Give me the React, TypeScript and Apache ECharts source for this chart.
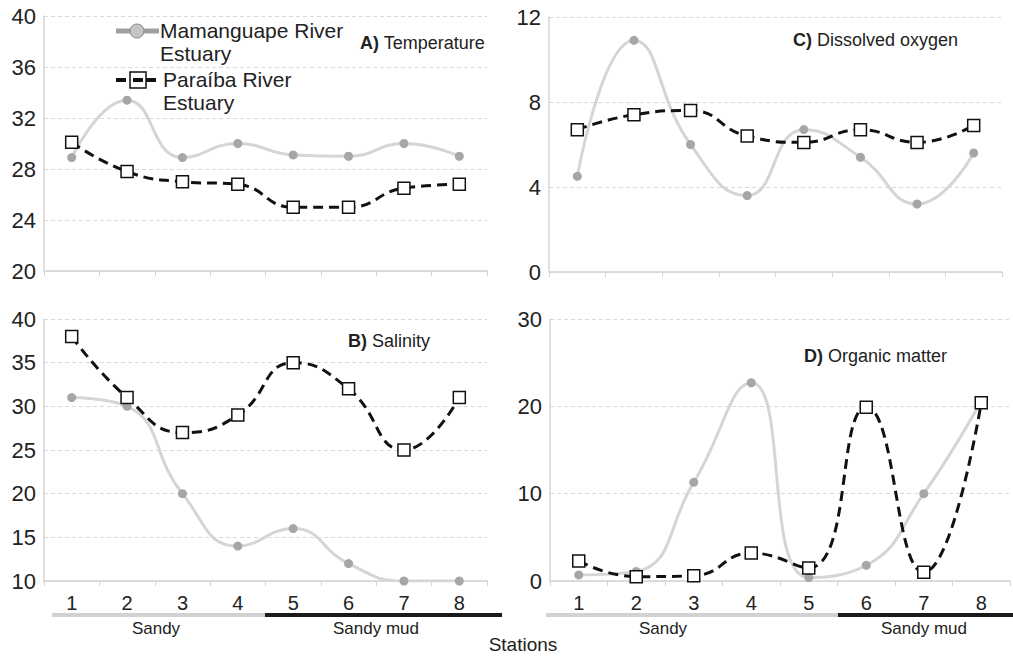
import React, { useEffect, useRef } from "react";
import * as echarts from "echarts";

const stations = ["1", "2", "3", "4", "5", "6", "7", "8"];

const tempMamanguape = [28.9, 33.4, 28.9, 30.0, 29.1, 29.0, 30.0, 29.0];
const tempParaiba = [30.1, 27.8, 27.0, 26.8, 25.0, 25.0, 26.5, 26.8];

const oxyMamanguape = [4.5, 10.9, 6.0, 3.6, 6.7, 5.4, 3.2, 5.6];
const oxyParaiba = [6.7, 7.4, 7.6, 6.4, 6.1, 6.7, 6.1, 6.9];

const salMamanguape = [31, 30, 20, 14, 16, 12, 10, 10];
const salParaiba = [38, 31, 27, 29, 35, 32, 25, 31];

const omMamanguape = [0.7, 1.1, 11.3, 22.7, 0.4, 1.8, 10.0, 20.6];
const omParaiba = [2.3, 0.5, 0.6, 3.2, 1.5, 19.9, 1.0, 20.4];

const seriesNames = ["Mamanguape River\nEstuary", "Paraíba River\nEstuary"];

const FONT = "'Liberation Sans', Arial, Helvetica, sans-serif";

export default function App() {
  const ref = useRef<HTMLDivElement>(null);

  useEffect(() => {
    if (!ref.current) return;
    const chart = echarts.init(ref.current, null, { renderer: "svg" });

    const panels = [
      { grid: { left: 44, top: 16, width: 443, height: 255 }, min: 20, max: 40, interval: 4, labels: false, m: tempMamanguape, p: tempParaiba },
      { grid: { left: 549, top: 17, width: 453, height: 255 }, min: 0, max: 12, interval: 4, labels: false, m: oxyMamanguape, p: oxyParaiba },
      { grid: { left: 44, top: 319, width: 443, height: 262 }, min: 10, max: 40, interval: 5, labels: true, m: salMamanguape, p: salParaiba },
      { grid: { left: 550, top: 319, width: 460, height: 262 }, min: 0, max: 30, interval: 10, labels: true, m: omMamanguape, p: omParaiba },
    ];

    const grids = panels.map((p) => ({ ...p.grid, containLabel: false }));
    const xAxes = panels.map((p, i) => ({
      type: "category",
      gridIndex: i,
      data: stations,
      boundaryGap: true,
      axisLine: { show: true, lineStyle: { color: "#d4d4d4", width: 1.5 } },
      axisTick: { show: true, length: 5, inside: false, lineStyle: { color: "#d4d4d4", width: 1 } },
      axisLabel: {
        show: p.labels,
        margin: 12,
        fontSize: 20,
        color: "#222",
        fontFamily: FONT,
      },
      splitLine: { show: false },
    }));
    const yAxes = panels.map((p, i) => ({
      type: "value",
      gridIndex: i,
      min: p.min,
      max: p.max,
      interval: p.interval,
      axisLine: { show: true, lineStyle: { color: "#d4d4d4", width: 1.5 } },
      axisTick: { show: false },
      axisLabel: { margin: 8, fontSize: 22, color: "#222", fontFamily: FONT },
      splitLine: { show: true, lineStyle: { color: "#d9d9d9", type: [4, 3], width: 1 } },
    }));

    const series: any[] = [];
    panels.forEach((p, i) => {
      series.push({
        name: seriesNames[0],
        type: "line",
        xAxisIndex: i,
        yAxisIndex: i,
        data: p.m,
        smooth: 0.5,
        symbol: "circle",
        symbolSize: 9,
        lineStyle: { color: "#d5d5d5", width: 3 },
        itemStyle: { color: "#a6a6a6", borderWidth: 0 },
        z: 2,
      });
      series.push({
        name: seriesNames[1],
        type: "line",
        xAxisIndex: i,
        yAxisIndex: i,
        data: p.p,
        smooth: 0.5,
        symbol: "rect",
        symbolSize: 12,
        lineStyle: { color: "#111", width: 3, type: [10, 6] },
        itemStyle: { color: "#fff", borderColor: "#111", borderWidth: 1.5 },
        z: 3,
      });
    });

    const titleText = (x: number, y: number, letter: string, name: string) => ({
      type: "text",
      left: x,
      top: y,
      style: {
        text: `{b|${letter}} ${name}`,
        rich: {
          b: { fontWeight: "bold", fontSize: 18, fill: "#222", fontFamily: FONT },
        },
        fontSize: 18,
        fill: "#222",
        fontFamily: FONT,
      },
    });

    const bar = (x1: number, x2: number, color: string) => ({
      type: "line",
      shape: { x1, y1: 615, x2, y2: 615 },
      style: { stroke: color, lineWidth: 4 },
    });

    const label = (cx: number, text: string, y = 628, size = 17) => ({
      type: "text",
      x: cx,
      y,
      style: {
        text,
        fontSize: size,
        fill: "#222",
        fontFamily: FONT,
        align: "center",
        verticalAlign: "middle",
      },
    });

    const graphic: any[] = [
      titleText(360, 34, "A)", "Temperature"),
      titleText(793, 31, "C)", "Dissolved oxygen"),
      titleText(348, 332, "B)", "Salinity"),
      titleText(804, 347, "D)", "Organic matter"),
      bar(52, 265, "#d2d2d2"),
      bar(265, 502, "#1a1a1a"),
      bar(546, 838, "#d2d2d2"),
      bar(838, 1013, "#1a1a1a"),
      label(156, "Sandy"),
      label(376, "Sandy mud"),
      label(663, "Sandy"),
      label(924, "Sandy mud"),
      label(523, "Stations", 644, 19),
      // legend
      {
        type: "line",
        shape: { x1: 116, y1: 31, x2: 159, y2: 31 },
        style: { stroke: "#a0a0a0", lineWidth: 5 },
        z: 10,
      },
      {
        type: "circle",
        shape: { cx: 137, cy: 31, r: 7 },
        style: { fill: "#c4c4c4", stroke: "#888", lineWidth: 1 },
        z: 11,
      },
      {
        type: "text",
        left: 160,
        top: 19,
        style: {
          text: "Mamanguape River\nEstuary",
          fontSize: 21,
          lineHeight: 23,
          fill: "#222",
          fontFamily: FONT,
        },
        z: 10,
      },
      {
        type: "line",
        shape: { x1: 116, y1: 80, x2: 157, y2: 80 },
        style: { stroke: "#111", lineWidth: 4, lineDash: [10, 5] },
        z: 10,
      },
      {
        type: "rect",
        shape: { x: 130, y: 72, width: 16, height: 16 },
        style: { fill: "#fff", stroke: "#111", lineWidth: 1.5 },
        z: 11,
      },
      {
        type: "rect",
        shape: { x: 133, y: 78, width: 10, height: 4 },
        style: { fill: "#111" },
        z: 12,
      },
      {
        type: "text",
        left: 163,
        top: 68,
        style: {
          text: "Paraíba River\nEstuary",
          fontSize: 21,
          lineHeight: 23,
          fill: "#222",
          fontFamily: FONT,
        },
        z: 10,
      },
    ];

    chart.setOption({
      animation: false,
      backgroundColor: "#fff",
      grid: grids,
      xAxis: xAxes,
      yAxis: yAxes,
      series,
      graphic,
    });

    return () => chart.dispose();
  }, []);

  return (
    <div
      ref={ref}
      style={{ position: "absolute", left: 0, top: 0, width: 1013, height: 656 }}
    />
  );
}
